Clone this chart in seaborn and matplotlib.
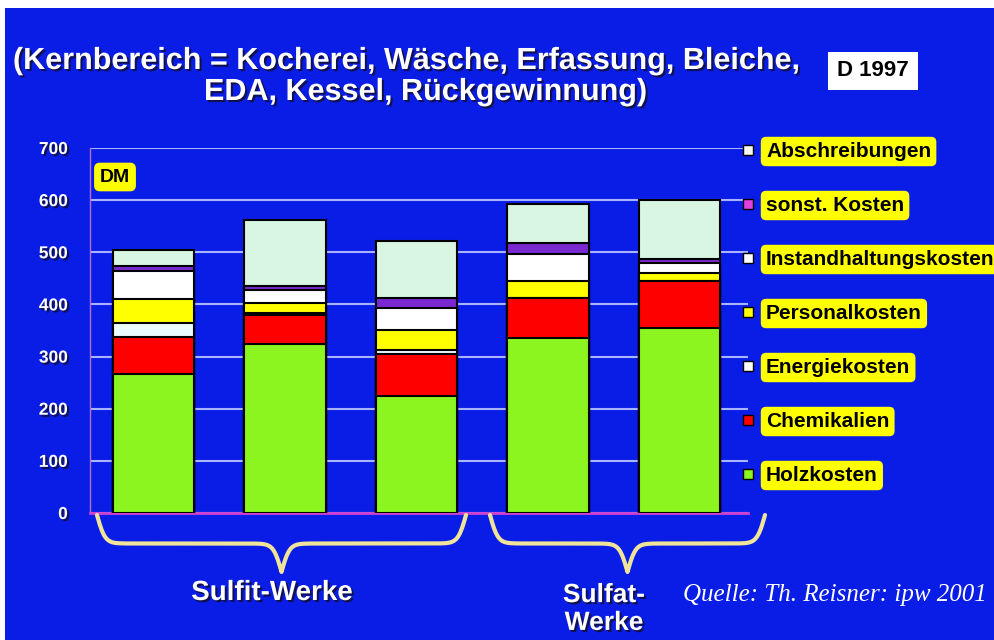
import numpy as np
import matplotlib
matplotlib.use('Agg')
import matplotlib.pyplot as plt
import matplotlib.patheffects as pe
from matplotlib.lines import Line2D
from matplotlib.patches import Rectangle
import seaborn as sns

# Daten (DM je Tonne)
werke = ['Sulfit 1', 'Sulfit 2', 'Sulfit 3', 'Sulfat 1', 'Sulfat 2']
holzkosten = [267, 325, 224, 336, 355]
chemikalien = [71, 54, 80, 77, 90]
energiekosten = [27, 5, 9, 0, 0]
personalkosten = [46, 19, 38, 32, 16]
instandhaltung = [53, 24, 43, 51, 19]
sonst_kosten = [10, 9, 19, 21, 8]
abschreibungen = [30, 125, 109, 75, 112]

kategorien = ['Holzkosten', 'Chemikalien', 'Energiekosten', 'Personalkosten',
              'Instandhaltungskosten', 'sonst. Kosten', 'Abschreibungen']
farben = ['#8cf520', '#ff0000', '#eafcff', '#ffff00', '#ffffff', '#7a28d0', '#d8f6e2']
legend_farben = ['#8cf520', '#ff0000', '#ffffff', '#ffff00', '#ffffff', '#e040e0', '#f4f8ee']
y_ticks = [0, 100, 200, 300, 400, 500, 600, 700]

BLAU = '#0a1de6'
plt.rcParams['font.family'] = ['Liberation Sans', 'DejaVu Sans']
plt.rcParams['font.weight'] = 'bold'

schatten = [pe.SimplePatchShadow(offset=(1.5, -1.5), shadow_rgbFace='#101040', alpha=0.9),
            pe.Normal()]

fig = plt.figure(figsize=(9.95, 6.4), dpi=100, facecolor='white')
fig.add_artist(Rectangle((5 / 995, 0), 1, 1 - 8 / 640, transform=fig.transFigure,
                         facecolor=BLAU, edgecolor='none', zorder=-10))

ax = fig.add_axes([90 / 995, 1 - 513 / 640, (748 - 90) / 995, (513 - 148) / 640])
ax.set_facecolor('none')

# gestapelte Balken: von oben nach unten überlagern
stapel = np.array([holzkosten, chemikalien, energiekosten, personalkosten,
                   instandhaltung, sonst_kosten, abschreibungen])
kumuliert = np.cumsum(stapel, axis=0)
for i in range(len(stapel) - 1, -1, -1):
    sns.barplot(x=werke, y=kumuliert[i], color=farben[i], saturation=1, width=0.62,
                edgecolor='black', linewidth=1.5, errorbar=None, ax=ax, zorder=3)

ax.set_xlim(-0.483, 4.52)
ax.set_ylim(0, 700)
ax.set_yticks(y_ticks)
ax.set_xticks([])
ax.set_xlabel('')
ax.set_ylabel('')
ax.tick_params(axis='y', length=0, pad=16, labelcolor='white', labelsize=12.5)
for lbl in ax.get_yticklabels():
    lbl.set_path_effects(schatten)
ax.yaxis.grid(True, color='#a8b4ff', lw=1.5)
ax.set_axisbelow(True)
for s in ['top', 'right']:
    ax.spines[s].set_visible(False)
ax.spines['left'].set_color('#b070d0')
ax.spines['left'].set_linewidth(1)
ax.spines['bottom'].set_color('#d040d0')
ax.spines['bottom'].set_linewidth(2)

# Legende mit gelben Kästchen
handles = [Line2D([], [], ls='', marker='s', markersize=7, markerfacecolor=c,
                  markeredgecolor='black', markeredgewidth=1) for c in legend_farben[::-1]]
leg = ax.legend(handles, kategorien[::-1], loc='upper left',
                bbox_to_anchor=(741 / 995, 1 - 142 / 640), bbox_transform=fig.transFigure,
                frameon=False, fontsize=15, handlelength=0.7, handletextpad=0.5,
                labelspacing=1.68, borderaxespad=0, borderpad=0)
for t in leg.get_texts():
    t.set_bbox(dict(facecolor='#ffff00', edgecolor='none', boxstyle='round,pad=0.25'))

# Beschriftungen und Klammern in Pixelkoordinaten
deco = fig.add_axes([0, 0, 1, 1])
deco.set_xlim(0, 995)
deco.set_ylim(640, 0)
deco.axis('off')
deco.patch.set_alpha(0)

deco.text(406, 61, '(Kernbereich = Kocherei, Wäsche, Erfassung, Bleiche,', ha='center',
          va='center', fontsize=22, color='white', path_effects=schatten)
deco.text(425, 92, 'EDA, Kessel, Rückgewinnung)', ha='center', va='center',
          fontsize=22, color='white', path_effects=schatten)
deco.text(873, 71, 'D 1997', ha='center', va='center', fontsize=16, color='black',
          bbox=dict(facecolor='white', edgecolor='none', boxstyle='square,pad=0.4'))
deco.text(115, 177, 'DM', ha='center', va='center', fontsize=14, color='black',
          bbox=dict(facecolor='#ffff00', edgecolor='none', boxstyle='round,pad=0.3'))


def klammer(x0, x1, y0, y1, beta=0.25):
    xm = (x0 + x1) / 2
    xs = np.linspace(x0, xm, 200)
    h = 1 / (1 + np.exp(-beta * (xs - x0))) + 1 / (1 + np.exp(-beta * (xs - xm))) - 0.5
    ys = y0 + h * (y1 - y0)
    return np.concatenate([xs, (2 * xm - xs)[::-1]]), np.concatenate([ys, ys[::-1]])


for x0, x1 in [(97, 466), (490, 765)]:
    bx, by = klammer(x0, x1, 515, 572)
    deco.plot(bx, by, color='#efe49a', lw=3, solid_capstyle='round')

deco.text(272, 593, 'Sulfit-Werke', ha='center', va='center', fontsize=20,
          color='white', path_effects=schatten)
deco.text(604, 609, 'Sulfat-\nWerke', ha='center', va='center', fontsize=19,
          color='white', linespacing=1.2, path_effects=schatten)
deco.text(683, 595, 'Quelle: Th. Reisner: ipw 2001', family='Liberation Serif',
          style='italic', weight='normal', fontsize=18, color='white',
          ha='left', va='center')

fig.savefig('out.png', dpi=100, facecolor=fig.get_facecolor())
